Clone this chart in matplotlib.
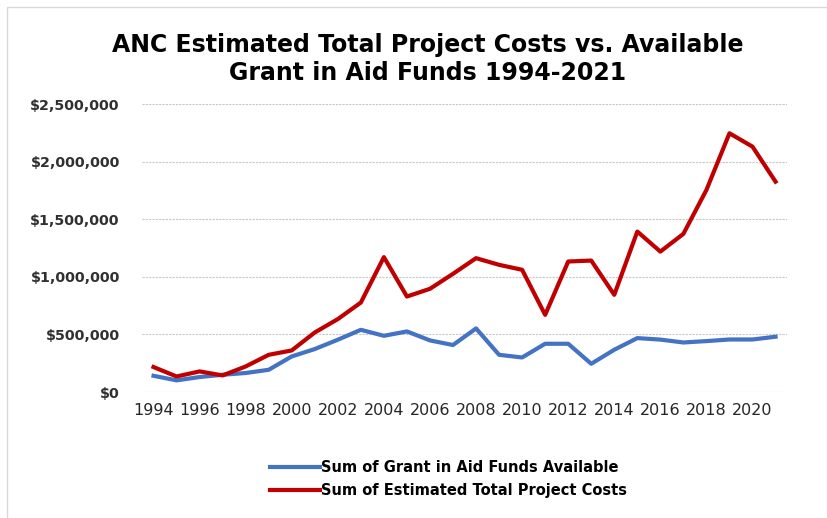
import matplotlib.pyplot as plt
import matplotlib.ticker as mticker
from matplotlib.patches import Rectangle

years = list(range(1994, 2022))

# Sum of Grant in Aid Funds Available
grant_funds = [141000, 101000, 130000, 150000, 165000, 193000, 309000, 373000,
               454000, 540000, 488000, 526000, 448000, 408000, 552000, 323000,
               300000, 419000, 419000, 245000, 367000, 468000, 455000, 430000,
               442000, 456000, 456000, 480000]

# Sum of Estimated Total Project Costs
project_costs = [217000, 135000, 179000, 144000, 222000, 323000, 361000, 517000,
                 633000, 777000, 1171000, 829000, 896000, 1026000, 1162000, 1104000,
                 1061000, 670000, 1133000, 1141000, 844000, 1393000, 1219000, 1373000,
                 1754000, 2246000, 2130000, 1826000]

fig = plt.figure(figsize=(8.27, 5.18), dpi=100)
ax = fig.add_axes([0.1717, 0.2432, 0.780, 0.556])

# light chart-area border (cropped at right/bottom)
fig.patches.append(Rectangle((7 / 827, -0.1), 1.2, 1 - 7 / 518 + 0.1,
                             transform=fig.transFigure, fill=False,
                             edgecolor='#d9d9d9', linewidth=1))

l1, = ax.plot(years, grant_funds, color='#4472C4', linewidth=3,
              solid_joinstyle='round', label='Sum of Grant in Aid Funds Available')
l2, = ax.plot(years, project_costs, color='#C00000', linewidth=3,
              solid_joinstyle='round', label='Sum of Estimated Total Project Costs')

ax.set_xlim(1993.5, 2021.5)
ax.set_ylim(0, 2500000)
ax.set_xticks(range(1994, 2021, 2))
ax.set_yticks(range(0, 2500001, 500000))
ax.yaxis.set_major_formatter(mticker.FuncFormatter(lambda v, p: f"${v:,.0f}"))

ax.grid(axis='y', color='#c8c8c8', linestyle=(0, (2, 1)), linewidth=0.8)
ax.set_axisbelow(True)
for s in ax.spines.values():
    s.set_visible(False)
ax.tick_params(length=0)
ax.tick_params(axis='y', pad=16)
ax.tick_params(axis='x', pad=8)
for t in ax.get_yticklabels():
    t.set_fontfamily('DejaVu Sans')
    t.set_fontweight('bold')
    t.set_fontsize(10.3)
    t.set_color('#303030')
for t in ax.get_xticklabels():
    t.set_fontfamily('DejaVu Sans')
    t.set_fontsize(11.5)
    t.set_color('#262626')

fig.text(0.5175, 1 - 45 / 518, 'ANC Estimated Total Project Costs vs. Available',
         ha='center', va='center', fontsize=17, fontweight='bold', family='DejaVu Sans')
fig.text(0.5175, 1 - 73 / 518, 'Grant in Aid Funds 1994-2021',
         ha='center', va='center', fontsize=17, fontweight='bold', family='DejaVu Sans')

fig.legend(handles=[l1, l2], loc='center left', bbox_to_anchor=(257 / 827, 1 - 479 / 518),
           frameon=False, handlelength=3.4, handletextpad=0.1, labelspacing=0.6,
           prop={'family': 'DejaVu Sans', 'weight': 'bold', 'size': 10.5})

fig.savefig('out.png', dpi=100)
